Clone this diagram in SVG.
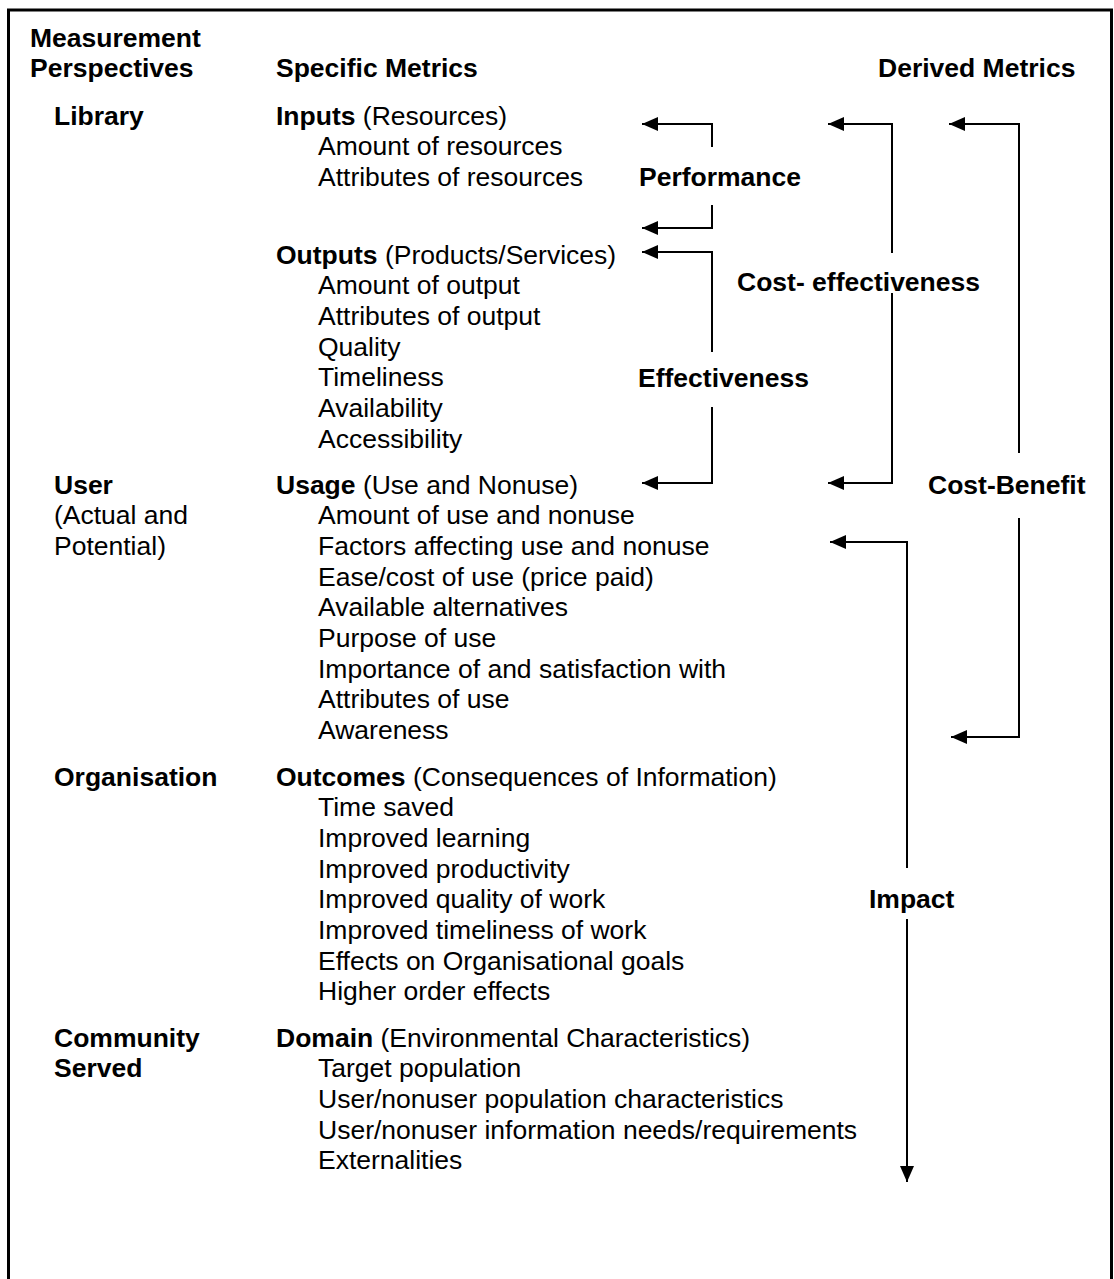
<svg xmlns="http://www.w3.org/2000/svg" width="1114" height="1279" viewBox="0 0 1114 1279">
  <style>
    text { font-family: "Liberation Sans", Arial, sans-serif; font-size: 26.5px; fill: #000; }
    .b { font-weight: bold; }
    .frame { fill: none; stroke: #000; stroke-width: 3; }
    .link { fill: none; stroke: #000; stroke-width: 2; }
  </style>
  <defs>
    <marker id="head" markerUnits="userSpaceOnUse" markerWidth="18" markerHeight="16" viewBox="0 -8 18 16" refX="16" refY="0" orient="auto">
      <path d="M0,-7 L16,0 L0,7 z" fill="#000"/>
    </marker>
  </defs>
  <rect width="1114" height="1279" fill="#fff"/>

  <!-- open frame: left, top and right edges -->
  <path class="frame" d="M8.5,1279 V10 H1111.5 V1279"/>

  <g id="labels" transform="translate(0,1.5)">
    <!-- column headers -->
    <g id="headers">
      <text class="b" x="30" y="45">Measurement</text>
      <text class="b" x="30" y="75">Perspectives</text>
      <text class="b" x="276" y="75">Specific Metrics</text>
      <text class="b" x="878" y="75">Derived Metrics</text>
    </g>

    <!-- measurement perspectives -->
    <g id="perspective-library"><text class="b" x="54" y="123">Library</text></g>
    <g id="perspective-user">
      <text class="b" x="54" y="492">User</text>
      <text x="54" y="522.7">(Actual and</text>
      <text x="54" y="553.4">Potential)</text>
    </g>
    <g id="perspective-organisation"><text class="b" x="54" y="784">Organisation</text></g>
    <g id="perspective-community">
      <text class="b" x="54" y="1045">Community</text>
      <text class="b" x="54" y="1075.7">Served</text>
    </g>

    <!-- specific metrics -->
    <g id="metric-inputs">
      <text x="276" y="123"><tspan class="b">Inputs</tspan> (Resources)</text>
      <text x="318" y="153.7">Amount of resources</text>
      <text x="318" y="184.4">Attributes of resources</text>
    </g>
    <g id="metric-outputs">
      <text x="276" y="262"><tspan class="b">Outputs</tspan> (Products/Services)</text>
      <text x="318" y="292.7">Amount of output</text>
      <text x="318" y="323.4">Attributes of output</text>
      <text x="318" y="354.1">Quality</text>
      <text x="318" y="384.8">Timeliness</text>
      <text x="318" y="415.5">Availability</text>
      <text x="318" y="446.2">Accessibility</text>
    </g>
    <g id="metric-usage">
      <text x="276" y="492"><tspan class="b">Usage</tspan> (Use and Nonuse)</text>
      <text x="318" y="522.7">Amount of use and nonuse</text>
      <text x="318" y="553.4">Factors affecting use and nonuse</text>
      <text x="318" y="584.1">Ease/cost of use (price paid)</text>
      <text x="318" y="614.8">Available alternatives</text>
      <text x="318" y="645.5">Purpose of use</text>
      <text x="318" y="676.2">Importance of and satisfaction with</text>
      <text x="318" y="706.9">Attributes of use</text>
      <text x="318" y="737.6">Awareness</text>
    </g>
    <g id="metric-outcomes">
      <text x="276" y="784"><tspan class="b">Outcomes</tspan> (Consequences of Information)</text>
      <text x="318" y="814.7">Time saved</text>
      <text x="318" y="845.4">Improved learning</text>
      <text x="318" y="876.1">Improved productivity</text>
      <text x="318" y="906.8">Improved quality of work</text>
      <text x="318" y="937.5">Improved timeliness of work</text>
      <text x="318" y="968.2">Effects on Organisational goals</text>
      <text x="318" y="998.9">Higher order effects</text>
    </g>
    <g id="metric-domain">
      <text x="276" y="1045"><tspan class="b">Domain</tspan> (Environmental Characteristics)</text>
      <text x="318" y="1075.7">Target population</text>
      <text x="318" y="1106.4">User/nonuser population characteristics</text>
      <text x="318" y="1137.1">User/nonuser information needs/requirements</text>
      <text x="318" y="1167.8">Externalities</text>
    </g>

    <!-- derived metrics -->
    <g id="derived-performance"><text class="b" x="639" y="184">Performance</text></g>
    <g id="derived-cost-effectiveness"><text class="b" x="737" y="289">Cost- effectiveness</text></g>
    <g id="derived-effectiveness"><text class="b" x="638" y="385">Effectiveness</text></g>
    <g id="derived-cost-benefit"><text class="b" x="928" y="492">Cost-Benefit</text></g>
    <g id="derived-impact"><text class="b" x="869" y="906">Impact</text></g>
  </g>

  <!-- connectors -->
  <g id="connectors">
    <path class="link" marker-end="url(#head)" d="M712,147 V124 H642"/>
    <path class="link" marker-end="url(#head)" d="M712,205 V228 H642"/>
    <path class="link" marker-end="url(#head)" d="M712,352 V252 H642"/>
    <path class="link" marker-end="url(#head)" d="M712,407 V483 H642"/>
    <path class="link" marker-end="url(#head)" d="M892,253 V124 H828"/>
    <path class="link" marker-end="url(#head)" d="M892,293 V483 H828"/>
    <path class="link" marker-end="url(#head)" d="M1019,453 V124 H949"/>
    <path class="link" marker-end="url(#head)" d="M1019,518 V737 H951"/>
    <path class="link" marker-end="url(#head)" d="M907,868 V542 H830"/>
    <path class="link" marker-end="url(#head)" d="M907,919 V1182"/>
  </g>
</svg>
